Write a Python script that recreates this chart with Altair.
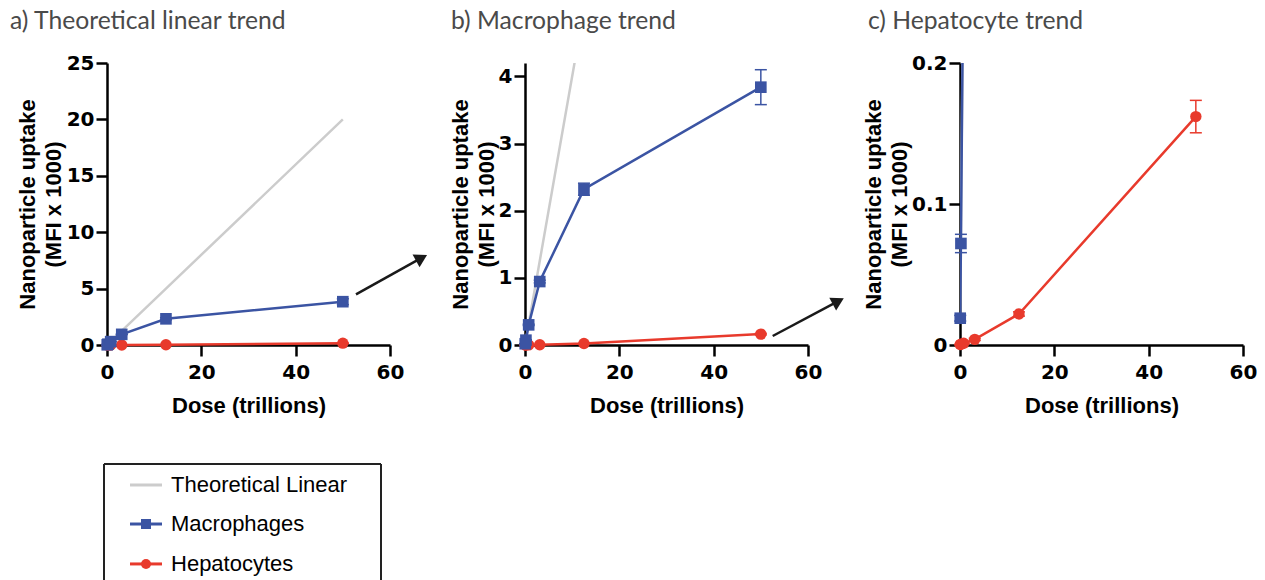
import altair as alt
import pandas as pd

# ---------------- data ----------------
dose = [0.049, 0.195, 0.78, 3.125, 12.5, 50.0]
theoretical = [0.0195, 0.078, 0.3125, 1.25, 5.0, 20.0]
macrophages = [0.019, 0.072, 0.30, 0.945, 2.32, 3.84]
macrophages_err = [0.002, 0.0065, 0.01, 0.02, 0.09, 0.26]
hepatocytes = [0.0003, 0.0005, 0.0012, 0.004, 0.022, 0.162]
hepatocytes_err = [0.0002, 0.0003, 0.0004, 0.0008, 0.0015, 0.0115]

series_names = ["Theoretical Linear", "Macrophages", "Hepatocytes"]
panel_titles = ["a) Theoretical linear trend", "b) Macrophage trend", "c) Hepatocyte trend"]
x_ticks = [0, 20, 40, 60]
y_max = [25, 4.2, 0.2]
y_ticks = [[0, 5, 10, 15, 20, 25], [0, 1, 2, 3, 4], [0, 0.1, 0.2]]
x_title = "Dose (trillions)"
y_title = ["Nanoparticle uptake", "(MFI x 1000)"]

# ---------------- styles / layout ----------------
GREY, BLUE, RED, ARROW = "#cccccc", "#3b54a3", "#e83a2c", "#1a1a1a"
W, H = 283, 282

rows = []
for name, vals, errs in [(series_names[0], theoretical, [0] * 6),
                         (series_names[1], macrophages, macrophages_err),
                         (series_names[2], hepatocytes, hepatocytes_err)]:
    for d, v, e in zip(dose, vals, errs):
        rows.append(dict(series=name, dose=d, value=v, lo=v - e, hi=v + e))
df = pd.DataFrame(rows)
caps = pd.concat([df[["series", "dose", "value"]].assign(cap=df["lo"]),
                  df[["series", "dose", "value"]].assign(cap=df["hi"])])


def X(field="dose", rng=None):
    if rng is None:
        sc = alt.Scale(domain=[0, 60], nice=False)
    else:
        sc = alt.Scale(domain=[0, 60], nice=False, range=rng)
    return alt.X(f"{field}:Q", scale=sc,
                 axis=alt.Axis(values=x_ticks, title=x_title))


def Y(field, i, tpad):
    return alt.Y(f"{field}:Q", scale=alt.Scale(domain=[0, y_max[i]], nice=False),
                 axis=alt.Axis(values=y_ticks[i], format="~g", title=y_title,
                               titlePadding=tpad, titleLineHeight=26))


def make_panel(i, width, xrange, clip_theo, clip_macro, title_dx, title_offset, ytpad,
               arrow=None, legend=False):
    ymax = y_max[i]
    xe = X("dose", xrange)
    ye = Y("value", i, ytpad)
    theo = df[df.series == series_names[0]]
    mac = df[df.series == series_names[1]]
    hep = df[df.series == series_names[2]]
    mac_in = mac[mac.value <= ymax]
    hep_in = hep[hep.value <= ymax]
    mac_caps = caps[(caps.series == series_names[1]) & (caps.value <= ymax)]
    hep_caps = caps[(caps.series == series_names[2]) & (caps.value <= ymax)]

    layers = [
        alt.Chart(theo).mark_line(color=GREY, strokeWidth=2.5, clip=clip_theo).encode(x=xe, y=ye),
        alt.Chart(hep).mark_line(color=RED, strokeWidth=2.5).encode(x=xe, y=ye),
        alt.Chart(hep_in).mark_rule(color=RED, strokeWidth=1.5).encode(
            x=xe, y=Y("lo", i, ytpad), y2="hi:Q"),
        alt.Chart(hep_caps).mark_point(shape="stroke", size=144, color=RED, strokeWidth=1.5,
                                       opacity=1).encode(x=xe, y=Y("cap", i, ytpad)),
        alt.Chart(hep_in).mark_circle(size=130, color=RED, opacity=1).encode(x=xe, y=ye),
        alt.Chart(mac).mark_line(color=BLUE, strokeWidth=2.5, clip=clip_macro).encode(x=xe, y=ye),
        alt.Chart(mac_in).mark_rule(color=BLUE, strokeWidth=1.5).encode(
            x=xe, y=Y("lo", i, ytpad), y2="hi:Q"),
        alt.Chart(mac_caps).mark_point(shape="stroke", size=144, color=BLUE, strokeWidth=1.5,
                                       opacity=1).encode(x=xe, y=Y("cap", i, ytpad)),
        alt.Chart(mac_in).mark_square(size=135, color=BLUE, opacity=1).encode(x=xe, y=ye),
    ]

    if arrow is not None:
        adf = pd.DataFrame([arrow])
        layers.append(alt.Chart(adf).mark_rule(color=ARROW, strokeWidth=2.5).encode(
            x=xe, y=ye, x2="dose2:Q", y2="value2:Q"))
        layers.append(alt.Chart(adf).mark_point(shape="triangle", filled=True, color=ARROW,
                                                size=210, angle=arrow["angle"], opacity=1).encode(
            x=X("dose2", xrange), y=Y("value2", i, ytpad)))

    if legend:
        # legend drawn in panel a's data coordinates, below the plot area
        leg_rows = [-12.41, -15.87, -19.41]
        ldf = pd.DataFrame(dict(label=series_names, value=leg_rows,
                                x0=[4.88] * 3, x1=[11.66] * 3, xm=[8.27] * 3, xt=[13.57] * 3))
        box = pd.DataFrame(dict(dose=[-0.64, -0.64, 58.09], value=[-10.55, -10.55, -10.55],
                                dose2=[-0.64, 58.09, 58.09], value2=[-22.5, -10.55, -22.5]))
        col = alt.Color("label:N", scale=alt.Scale(domain=series_names, range=[GREY, BLUE, RED]),
                        legend=None)
        layers += [
            alt.Chart(box).mark_rule(color="#222222", strokeWidth=2).encode(
                x=xe, y=ye, x2="dose2:Q", y2="value2:Q"),
            alt.Chart(ldf).mark_rule(strokeWidth=3).encode(
                x=X("x0"), x2="x1:Q", y=Y("value", i, ytpad), color=col),
            alt.Chart(ldf[ldf.label == series_names[1]]).mark_square(
                size=100, color=BLUE, opacity=1).encode(x=X("xm"), y=Y("value", i, ytpad)),
            alt.Chart(ldf[ldf.label == series_names[2]]).mark_circle(
                size=100, color=RED, opacity=1).encode(x=X("xm"), y=Y("value", i, ytpad)),
            alt.Chart(ldf).mark_text(align="left", baseline="middle", font="Liberation Sans",
                                     fontSize=22, color="black").encode(
                x=X("xt"), y=Y("value", i, ytpad), text="label:N"),
        ]

    return alt.layer(*layers).properties(
        width=width, height=H,
        title=alt.TitleParams(panel_titles[i], anchor="start", frame="group", orient="top",
                              dx=title_dx, offset=title_offset, font="Lato", fontSize=24.7,
                              fontWeight="normal", color="#4a4a4a"))


pa = make_panel(0, W, None, False, False, -97, 19, 1,
                arrow=dict(dose=52.79, value=4.49, dose2=66.30, value2=7.63, angle=61),
                legend=True)
pb = make_panel(1, 300, [0, W], True, False, -74, 29, 0,
                arrow=dict(dose=52.52, value=0.134, dose2=66.02, value2=0.639, angle=62))
pc = make_panel(2, W, None, True, True, -92, 19, 0)

chart = alt.hconcat(pa, pb, pc, spacing=135, bounds="flush").properties(
    padding={"left": 2, "top": 1, "right": 0, "bottom": 0}
).configure_view(stroke=None).configure_axis(
    domainColor="black", domainWidth=2.5, tickColor="black", tickWidth=2.5, tickSize=11,
    labelFont="DejaVu Sans", labelFontSize=20, labelFontWeight="bold", labelColor="black",
    titleFont="Liberation Sans", titleFontSize=22, titleFontWeight="bold", titleColor="black",
    grid=False, labelFlush=False, labelOverlap=False
).configure_axisX(labelPadding=6, titlePadding=13).configure_axisY(labelPadding=2)

chart.save("out.html", embed_options={"renderer": "svg", "actions": False})
